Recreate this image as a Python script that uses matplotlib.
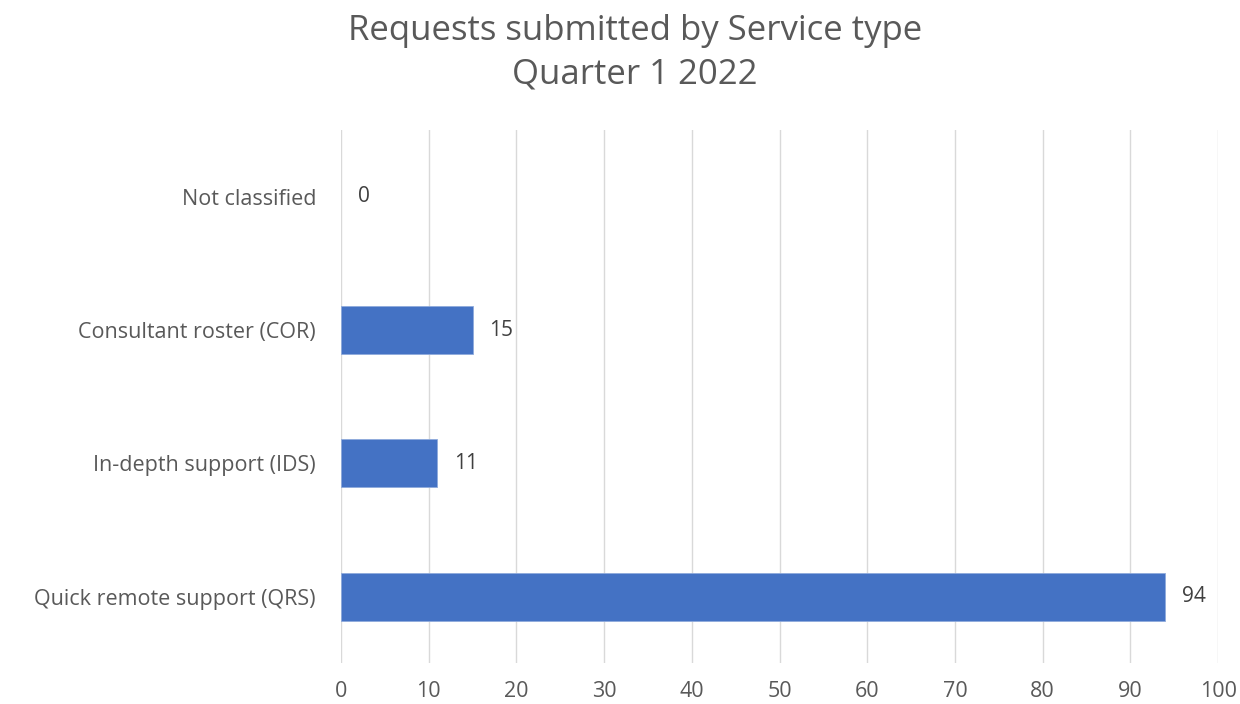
import matplotlib.pyplot as plt

categories = ['Quick remote support (QRS)', 'In-depth support (IDS)',
              'Consultant roster (COR)', 'Not classified']
values = [94, 11, 15, 0]
xticks = [0, 10, 20, 30, 40, 50, 60, 70, 80, 90, 100]

plt.rcParams['font.family'] = ['Open Sans', 'DejaVu Sans']
text_color = '#595959'

fig = plt.figure(figsize=(12.4, 7.04), dpi=100)
ax = fig.add_axes([0.275, 0.058, 0.7073, 0.757])

ypos = list(range(len(categories)))
bars = ax.barh(ypos, values, height=0.36, color='#4472C4', edgecolor='#8FAADC',
               linewidth=0.6, zorder=3)
for b, v in zip(bars, values):
    if v == 0:
        b.set_linewidth(0)

# value labels to the right of each bar
for y, v in zip(ypos, values):
    ax.annotate(str(v), xy=(v, y), xytext=(12, 0), textcoords='offset points',
                va='center', ha='left', fontsize=15, color='#404040')

ax.set_xlim(0, 100)
ax.set_ylim(-0.5, len(categories) - 0.5)
ax.set_xticks(xticks)
ax.set_yticks(ypos)
ax.set_yticklabels(categories, fontsize=16)
ax.tick_params(axis='both', length=0, labelsize=15.5, labelcolor=text_color)
ax.tick_params(axis='y', pad=18)
ax.tick_params(axis='x', pad=13)
ax.grid(axis='x', color='#D9D9D9', linewidth=1, zorder=0)
for s in ax.spines.values():
    s.set_visible(False)

fig.text(0.512, 0.925, 'Requests submitted by Service type\nQuarter 1 2022',
         ha='center', va='center', fontsize=25, color=text_color,
         linespacing=1.35)

fig.savefig('out.png', dpi=100)
